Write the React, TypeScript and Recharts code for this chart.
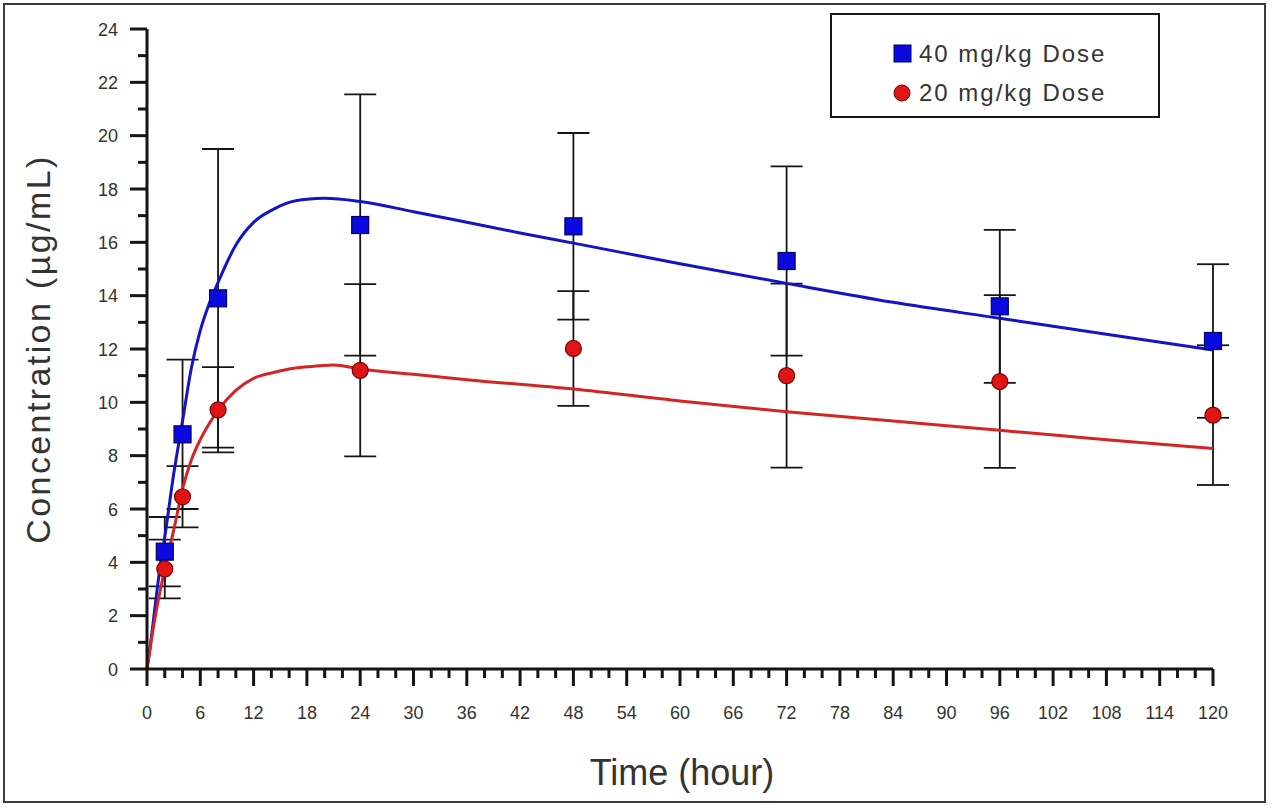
import React from "react";
import {
  ComposedChart,
  ErrorBar,
  Label,
  Legend,
  Line,
  Scatter,
  XAxis,
  YAxis,
} from "recharts";

const FONT = '"Liberation Sans", Arial, sans-serif';
const INK = "#151515";
const TEXT = "#333";

// measured points (mean ± SD)
const SAMPLE_HOURS = [2, 4, 8, 24, 48, 72, 96, 120];
const DOSE40_MEAN = [4.4, 8.8, 13.9, 16.65, 16.6, 15.3, 13.6, 12.3];
const DOSE40_SD = [1.3, 2.8, 5.6, 4.9, 3.5, 3.55, 2.87, 2.88];
const DOSE20_MEAN = [3.75, 6.46, 9.72, 11.2, 12.02, 11.0, 10.78, 9.52];
const DOSE20_SD = [1.1, 1.15, 1.6, 3.23, 2.15, 3.45, 3.24, 2.62];

// fitted curves
const FIT40_HOURS = [0, 0.5, 1, 1.5, 2, 3, 4, 5, 6, 7, 8, 10, 12, 14, 16, 18, 20, 24, 30, 36, 42, 48, 60, 72, 84, 96, 108, 120];
const FIT40_CONC = [0, 1.2, 2.6, 3.9, 4.95, 7.3, 9.3, 11.3, 12.7, 13.7, 14.5, 15.9, 16.75, 17.2, 17.5, 17.62, 17.65, 17.53, 17.15, 16.75, 16.35, 15.97, 15.2, 14.46, 13.75, 13.15, 12.55, 11.96];
const FIT20_HOURS = [0, 0.5, 1, 2, 3, 4, 5, 6, 8, 10, 12, 14, 16, 18, 21, 24, 30, 36, 48, 60, 72, 84, 96, 108, 120];
const FIT20_CONC = [0, 1.1, 2.1, 3.75, 5.2, 6.75, 7.85, 8.6, 9.7, 10.45, 10.9, 11.1, 11.25, 11.33, 11.4, 11.25, 11.05, 10.85, 10.5, 10.05, 9.65, 9.3, 8.95, 8.6, 8.27];

const X_MAJOR = [0, 6, 12, 18, 24, 30, 36, 42, 48, 54, 60, 66, 72, 78, 84, 90, 96, 102, 108, 114, 120];
const Y_MAJOR = [0, 2, 4, 6, 8, 10, 12, 14, 16, 18, 20, 22, 24];
const X_TICKS = Array.from({ length: 61 }, (_, i) => i * 2);
const Y_TICKS = Array.from({ length: 25 }, (_, i) => i);

const SERIES_40 = "40 mg/kg Dose";
const SERIES_20 = "20 mg/kg Dose";
const BLUE = "#0a0ae0";
const BLUE_LINE = "#1414c4";
const RED = "#e01414";
const RED_LINE = "#d42424";

const points40 = SAMPLE_HOURS.map((t, i) => ({ t, c: DOSE40_MEAN[i], sd: DOSE40_SD[i] }));
const points20 = SAMPLE_HOURS.map((t, i) => ({ t, c: DOSE20_MEAN[i], sd: DOSE20_SD[i] }));
const fit40 = FIT40_HOURS.map((t, i) => ({ t, c: FIT40_CONC[i] }));
const fit20 = FIT20_HOURS.map((t, i) => ({ t, c: FIT20_CONC[i] }));

function XTick({ x, y, payload }: any) {
  const major = X_MAJOR.includes(payload.value);
  return (
    <g>
      <line x1={x} x2={x} y1={y} y2={y + (major ? 17 : 9)} stroke={INK} strokeWidth={3} />
      {major && (
        <text x={x} y={y + 50} textAnchor="middle" fontSize={18} fill={TEXT} fontFamily={FONT}>
          {payload.value}
        </text>
      )}
    </g>
  );
}

function YTick({ x, y, payload }: any) {
  const major = Y_MAJOR.includes(payload.value);
  return (
    <g>
      <line x1={x} x2={x - (major ? 17 : 9)} y1={y} y2={y} stroke={INK} strokeWidth={3} />
      {major && (
        <text x={x - 29} y={y + 6.5} textAnchor="end" fontSize={18} fill={TEXT} fontFamily={FONT}>
          {payload.value}
        </text>
      )}
    </g>
  );
}

const noShape = () => <g />;
const squareShape = (p: any) => (
  <rect x={p.cx - 8.5} y={p.cy - 8.5} width={17} height={17} fill={BLUE} stroke="#00006a" strokeWidth={1.2} />
);
const circleShape = (p: any) => (
  <circle cx={p.cx} cy={p.cy} r={8} fill={RED} stroke="#7a0000" strokeWidth={1.2} />
);

function LegendBox() {
  const row = (top: number, label: string, marker: React.ReactNode) => (
    <div style={{ position: "absolute", left: 60, top, height: 24, display: "flex", alignItems: "center" }}>
      <svg width={22} height={22} style={{ marginRight: 5 }}>{marker}</svg>
      <span style={{ fontSize: 24, letterSpacing: 2, color: TEXT, fontFamily: FONT, whiteSpace: "nowrap" }}>{label}</span>
    </div>
  );
  return (
    <div
      style={{
        position: "relative",
        width: 330,
        height: 105,
        border: `2px solid ${INK}`,
        boxSizing: "border-box",
        background: "#fff",
      }}
    >
      {row(27, SERIES_40, <rect x={2} y={2} width={17} height={17} fill={BLUE} stroke="#00006a" />)}
      {row(66, SERIES_20, <circle cx={10} cy={11} r={8} fill={RED} stroke="#7a0000" />)}
    </div>
  );
}

export default function App() {
  return (
    <div style={{ position: "absolute", left: 0, top: 0, width: 1272, height: 810, background: "#fff" }}>
      <div
        style={{
          position: "absolute",
          left: 3,
          top: 3,
          width: 1263,
          height: 800,
          border: "2px solid #3a3a3a",
          boxSizing: "border-box",
        }}
      />
      <ComposedChart
        width={1272}
        height={810}
        margin={{ top: 29, right: 59, left: 87, bottom: 81 }}
        style={{ position: "absolute", left: 0, top: 0 }}
      >
        <XAxis
          type="number"
          dataKey="t"
          domain={[0, 120]}
          ticks={X_TICKS}
          interval={0}
          height={60}
          tickSize={0}
          tickMargin={0}
          tickLine={false}
          tick={<XTick />}
          axisLine={{ stroke: INK, strokeWidth: 3 }}
        >
          <Label
            content={({ viewBox }: any) => (
              <text
                x={viewBox.x + viewBox.width / 2 + 2}
                y={785}
                textAnchor="middle"
                fontSize={36}
                fill={TEXT}
                fontFamily={FONT}
              >
                Time (hour)
              </text>
            )}
          />
        </XAxis>
        <YAxis
          type="number"
          domain={[0, 24]}
          ticks={Y_TICKS}
          interval={0}
          width={60}
          tickSize={0}
          tickMargin={0}
          tickLine={false}
          tick={<YTick />}
          axisLine={{ stroke: INK, strokeWidth: 3 }}
        >
          <Label
            content={({ viewBox }: any) => {
              const cy = viewBox.y + viewBox.height / 2;
              return (
                <text
                  x={50}
                  y={cy}
                  transform={`rotate(-90 50 ${cy})`}
                  textAnchor="middle"
                  fontSize={34}
                  letterSpacing={2.4}
                  fill={TEXT}
                  fontFamily={FONT}
                >
                  Concentration (µg/mL)
                </text>
              );
            }}
          />
        </YAxis>
        {/* error bars first so the markers sit on top */}
        <Scatter data={points40} dataKey="c" shape={noShape} legendType="none" isAnimationActive={false} zIndex={100}>
          <ErrorBar dataKey="sd" direction="y" width={16} stroke={INK} strokeWidth={1.8} zIndex={100} />
        </Scatter>
        <Scatter data={points20} dataKey="c" shape={noShape} legendType="none" isAnimationActive={false} zIndex={100}>
          <ErrorBar dataKey="sd" direction="y" width={16} stroke={INK} strokeWidth={1.8} zIndex={100} />
        </Scatter>
        <Line
          data={fit40}
          dataKey="c"
          type="monotone"
          stroke={BLUE_LINE}
          strokeWidth={3}
          dot={false}
          activeDot={false}
          legendType="none"
          isAnimationActive={false}
          zIndex={400}
        />
        <Line
          data={fit20}
          dataKey="c"
          type="monotone"
          stroke={RED_LINE}
          strokeWidth={3}
          dot={false}
          activeDot={false}
          legendType="none"
          isAnimationActive={false}
          zIndex={400}
        />
        <Scatter name={SERIES_40} data={points40} dataKey="c" shape={squareShape} isAnimationActive={false} zIndex={1500} />
        <Scatter name={SERIES_20} data={points20} dataKey="c" shape={circleShape} isAnimationActive={false} zIndex={1500} />
        <Legend
          layout="horizontal"
          verticalAlign="middle"
          content={() => <LegendBox />}
          wrapperStyle={{ position: "absolute", left: 830, top: 13, width: 330, height: 105 }}
        />
      </ComposedChart>
    </div>
  );
}
